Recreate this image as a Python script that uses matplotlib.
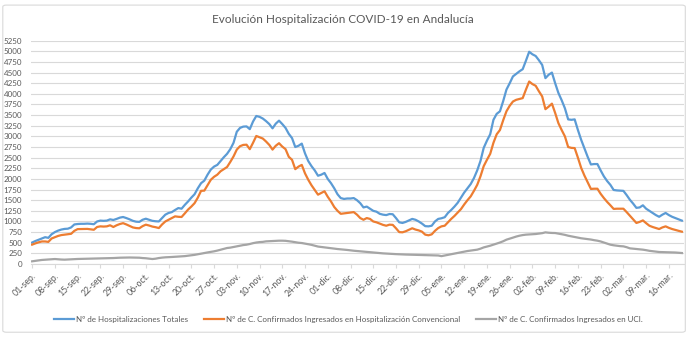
import pandas as pd
import matplotlib.pyplot as plt
from matplotlib.patches import FancyBboxPatch

plt.rcParams["font.family"] = ["Lato", "DejaVu Sans"]

# daily values, 01-sep to 20-mar
totales = [
    505, 540, 570, 600, 630, 615, 700,
    750, 785, 810, 825, 830, 860, 930,
    940, 945, 945, 950, 945, 935, 1000,
    1020, 1015, 1020, 1050, 1035, 1060, 1090,
    1105, 1080, 1050, 1015, 995, 990, 1040,
    1065, 1040, 1015, 1005, 1000, 1080, 1160,
    1200, 1220, 1270, 1315, 1300, 1390, 1470,
    1560, 1640, 1780, 1900, 1960, 2100, 2220,
    2290, 2330, 2420, 2510, 2590, 2700, 2850,
    3110, 3200, 3230, 3235, 3170, 3350, 3480,
    3460, 3420, 3360, 3290, 3190, 3300, 3370,
    3290, 3200, 3060, 2960, 2750, 2780, 2830,
    2600, 2420, 2300, 2200, 2075, 2100, 2140,
    2000, 1900, 1780, 1640, 1550, 1530, 1540,
    1540, 1550, 1500, 1430, 1330, 1350, 1300,
    1250, 1230, 1180, 1160, 1150, 1175, 1170,
    1080, 980, 965, 990, 1025, 1060, 1040,
    1000, 950, 890, 885, 900, 1000, 1060,
    1075, 1100, 1200, 1270, 1350, 1440, 1560,
    1680, 1780, 1880, 2020, 2200, 2420, 2730,
    2900, 3050, 3390, 3530, 3590, 3830, 4100,
    4250, 4410, 4470, 4530, 4580, 4780, 4990,
    4930, 4890, 4790, 4680, 4370, 4450, 4500,
    4250, 4020, 3850, 3660, 3400, 3390, 3400,
    3150, 2920, 2720, 2520, 2340, 2350, 2350,
    2200, 2060, 1950, 1860, 1740, 1730, 1725,
    1720, 1620, 1510, 1420, 1320, 1330, 1380,
    1300, 1250, 1200, 1150, 1110, 1160, 1200,
    1150, 1110, 1080, 1050, 1020,
]

convencional = [
    455, 485, 510, 530, 530, 520, 600,
    630, 660, 680, 690, 700, 710, 780,
    820, 822, 822, 825, 815, 805, 870,
    885, 880, 885, 910, 870, 910, 940,
    960, 930, 895, 860, 845, 840, 890,
    925, 905, 880, 865, 845, 930, 1000,
    1040, 1080, 1120, 1110, 1105, 1190, 1280,
    1350, 1430, 1560, 1720, 1725, 1850, 1980,
    2050, 2100, 2180, 2230, 2280, 2400, 2530,
    2690, 2770, 2800, 2805, 2700, 2850, 3010,
    2980, 2950, 2880, 2800, 2690, 2780, 2840,
    2760, 2700, 2520, 2450, 2230, 2290, 2330,
    2130, 1980, 1850, 1740, 1630, 1670, 1710,
    1580, 1470, 1340, 1250, 1180, 1190, 1200,
    1210, 1220, 1160, 1080, 1040, 1080, 1060,
    1000, 980, 950, 920, 900, 925, 920,
    840, 750, 745, 770, 805, 840, 810,
    790, 760, 690, 675, 697, 780, 845,
    885, 900, 980, 1060, 1130, 1210, 1290,
    1400, 1500, 1590, 1720, 1860, 2060, 2300,
    2450, 2590, 2850, 3050, 3150, 3380, 3590,
    3720, 3820, 3860, 3880, 3900, 4100, 4290,
    4230, 4190, 4060, 3940, 3640, 3700, 3770,
    3550, 3310, 3150, 3000, 2750, 2730, 2725,
    2500, 2260, 2080, 1920, 1765, 1770, 1770,
    1650, 1550, 1460, 1380, 1295, 1300, 1300,
    1300, 1220, 1135, 1050, 965, 990, 1025,
    960, 900, 870, 845, 822, 860, 885,
    850, 822, 800, 780, 760,
]

uci = [
    63, 75, 85, 95, 100, 105, 112,
    117, 110, 105, 102, 105, 110, 115,
    118, 120, 122, 125, 125, 128, 130,
    132, 133, 134, 136, 140, 145, 148,
    150, 152, 153, 152, 150, 148, 140,
    135, 125, 117, 125, 140, 150, 157,
    160, 165, 170, 175, 180, 185, 195,
    205, 215, 228, 243, 258, 272, 285,
    298, 315, 335, 355, 376, 385, 400,
    415, 431, 445, 454, 470, 490, 505,
    515, 520, 532, 535, 540, 545, 548,
    548, 545, 535, 525, 512, 500, 493,
    480, 465, 450, 430, 410, 400, 390,
    380, 370, 360, 352, 345, 337, 330,
    320, 312, 305, 298, 290, 282, 275,
    268, 262, 255, 250, 245, 240, 235,
    232, 228, 225, 222, 220, 219, 217,
    215, 213, 210, 208, 206, 205, 200,
    185, 200, 215, 230, 245, 260, 275,
    290, 305, 315, 325, 337, 360, 390,
    410, 430, 454, 480, 505, 535, 572,
    595, 620, 645, 665, 680, 690, 695,
    700, 705, 715, 725, 744, 735, 730,
    728, 715, 700, 685, 665, 650, 635,
    620, 605, 595, 587, 575, 560, 548,
    530, 505, 480, 454, 440, 430, 420,
    415, 395, 368, 360, 350, 345, 337,
    325, 310, 300, 290, 282, 280, 278,
    276, 274, 270, 265, 258,
]

meses = ["ene", "feb", "mar", "abr", "may", "jun",
         "jul", "ago", "sep", "oct", "nov", "dic"]
fechas = pd.date_range("2020-09-01", periods=len(totales))
etiquetas = [f"{d.day:02d}-{meses[d.month - 1]}." for d in fechas]

nombres = [
    "Nº de Hospitalizaciones Totales",
    "Nº de C. Confirmados Ingresados en Hospitalización Convencional",
    "Nº de C. Confirmados Ingresados en UCI.",
]
colores = ["#5B9BD5", "#ED7D31", "#A5A5A5"]
texto = "#595959"

fig = plt.figure(figsize=(7, 3.39), dpi=100)
fig.patches.append(FancyBboxPatch(
    (0.004, 0.02), 0.975, 0.965, boxstyle="round,pad=0,rounding_size=0.005",
    transform=fig.transFigure, facecolor="none", edgecolor="#D9D9D9", lw=0.8))

ax = fig.add_axes([30.5 / 700, 75 / 339, 653 / 700, 223.3 / 339])

x = range(len(totales))
for serie, nombre, color in zip([totales, convencional, uci], nombres, colores):
    ax.plot(x, serie, color=color, lw=1.6, label=nombre, solid_joinstyle="round")

ax.set_xlim(-0.5, len(totales) - 0.5)
ax.set_ylim(0, 5250)
ax.set_yticks(range(0, 5251, 250))
ax.set_xticks(range(0, len(totales), 7))
ax.set_xticklabels(etiquetas[::7], rotation=45, ha="right",
                   rotation_mode="anchor", fontsize=6.3, color=texto)
ax.tick_params(axis="y", length=0, labelsize=5.8, labelcolor=texto, pad=6)
ax.tick_params(axis="x", length=3, color="#D9D9D9", pad=2)
ax.grid(axis="y", color="#D9D9D9", lw=0.8)
ax.set_axisbelow(True)
for lado in ["top", "right", "left"]:
    ax.spines[lado].set_visible(False)
ax.spines["bottom"].set_color("#D9D9D9")

fig.text(0.49, 0.942, "Evolución Hospitalización COVID-19 en Andalucía",
         ha="center", va="center", fontsize=8.5, color=texto)

fig.legend(loc="center", bbox_to_anchor=(0.498, 0.058), ncol=3, frameon=False,
           fontsize=5.8, labelcolor=texto, handlelength=2.4, handletextpad=0.3,
           columnspacing=2.0)

fig.savefig("out.png", dpi=100)
